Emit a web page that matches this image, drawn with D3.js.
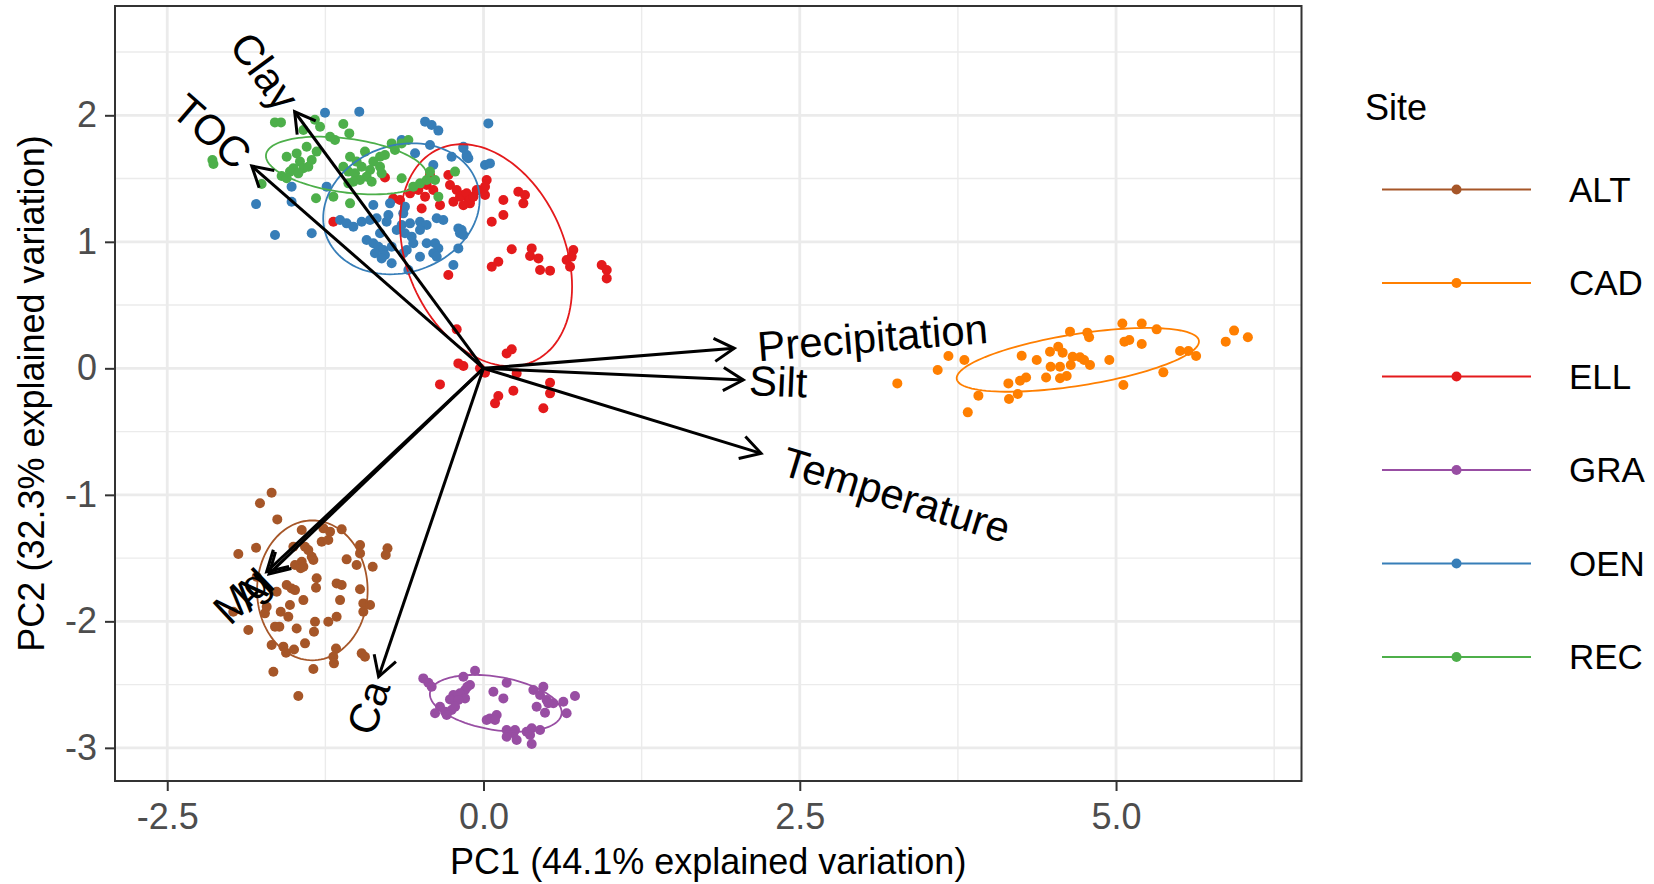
<!DOCTYPE html>
<html>
<head>
<meta charset="utf-8">
<title>PCA biplot by site</title>
<script src="https://d3js.org/d3.v7.min.js"></script>
<style>
  body { margin: 0; background: #fff; }
  text { font-family: "Liberation Sans", Arial, Helvetica, sans-serif; }
</style>
</head>
<body>
<svg id="chart" width="1654" height="884"></svg>
<script>
// ---- data (PC1, PC2 scores) ----
var sites = ["ALT", "CAD", "ELL", "GRA", "OEN", "REC"];
var siteColors = ["#A65628", "#FF7F00", "#E41A1C", "#984EA3", "#377EB8", "#4DAF4A"];

var ALT = [[-1.675,-0.983],[-1.767,-1.067],[-1.630,-1.194],[-1.938,-1.468],[-1.798,-1.418],[-1.437,-1.278],
  [-1.266,-1.265],[-1.213,-1.291],[-1.121,-1.273],[-1.279,-1.371],[-1.227,-1.357],[-1.411,-1.410],[-1.385,-1.437],
  [-1.503,-1.410],[-1.358,-1.489],[-1.437,-1.529],[-1.490,-1.555],[-1.445,-1.581],[-1.345,-1.515],[-1.082,-1.510],
  [-0.976,-1.397],[-0.976,-1.463],[-1.003,-1.555],[-0.876,-1.568],[-1.319,-1.660],[-1.324,-1.734],[-1.556,-1.713],
  [-1.517,-1.740],[-1.635,-1.766],[-1.161,-1.700],[-1.121,-1.713],[-1.134,-1.832],[-0.976,-1.747],[-0.950,-1.858],
  [-0.897,-1.871],[-0.950,-1.924],[-1.424,-1.832],[-1.530,-1.871],[-1.603,-1.924],[-1.543,-1.964],[-1.614,-2.042],
  [-1.648,-2.042],[-1.728,-1.937],[-1.978,-1.924],[-1.859,-2.069],[-1.675,-2.187],[-1.582,-2.200],[-1.561,-2.248],
  [-1.498,-2.222],[-1.411,-2.174],[-1.477,-2.056],[-1.332,-2.003],[-1.340,-2.082],[-1.227,-2.003],[-1.161,-1.964],
  [-1.166,-2.214],[-1.187,-2.280],[-1.182,-2.332],[-0.963,-2.253],[-0.937,-2.280],[-1.661,-2.398],[-1.345,-2.377],
  [-1.464,-2.590],[-1.490,-1.753],[-1.424,-1.568],[-1.793,-1.647],[-1.714,-1.884],[-0.759,-1.423],[-0.773,-1.476]];

var CAD = [[3.271,-0.119],[3.590,-0.013],[3.675,0.097],[3.801,0.066],[3.828,-0.348],[3.912,-0.216],[4.149,-0.119],
  [4.154,-0.243],[4.223,-0.203],[4.241,-0.098],[4.289,-0.072],[4.254,0.100],[4.373,0.066],[4.447,-0.072],
  [4.478,0.131],[4.483,0.013],[4.543,0.170],[4.578,0.124],[4.557,0.013],[4.557,-0.079],[4.610,-0.061],
  [4.642,0.026],[4.657,0.092],[4.715,0.087],[4.747,0.066],[4.794,0.026],[4.636,0.290],[4.773,0.282],
  [4.787,0.245],[4.947,0.066],[5.050,0.355],[5.203,0.355],[5.321,0.308],[5.066,0.211],[5.105,0.224],
  [5.203,0.192],[5.058,-0.132],[5.374,-0.032],[5.506,0.137],[5.572,0.137],[5.633,0.097],[5.867,0.211],
  [5.933,0.298],[6.042,0.245]];

var ELL = [[-0.212,0.308],[-0.199,0.039],[-0.159,0.018],[-0.028,0.000],[0.183,0.118],[0.223,0.150],[-0.344,-0.127],
  [0.117,-0.219],[0.091,-0.277],[0.236,-0.177],[0.526,-0.114],[0.526,-0.198],[0.473,-0.316],[0.262,-0.040],
  [0.012,-0.035],[0.025,1.488],[0.012,1.436],[-0.041,1.410],[0.012,1.370],[-0.159,1.370],[-0.120,1.344],
  [-0.107,1.304],[0.157,1.330],[0.275,1.396],[0.328,1.370],[0.315,1.304],[0.157,1.212],[0.065,1.159],
  [0.223,0.941],[0.381,0.948],[0.368,0.888],[0.434,0.869],[0.447,0.777],[0.526,0.772],[0.117,0.843],
  [0.065,0.803],[0.710,0.935],[0.697,0.883],[0.657,0.856],[0.684,0.803],[0.934,0.817],[0.974,0.777],
  [0.974,0.711],[-0.779,1.509],[-0.713,1.343],[-0.660,1.330],[-0.581,1.383],[-0.515,1.409],[-0.449,1.449],
  [-0.462,1.357],[-0.397,1.409],[-0.344,1.290],[-0.489,1.264],[-0.423,1.528],[-0.278,1.528],[-0.265,1.449],
  [-0.212,1.409],[-0.238,1.317],[-0.186,1.357],[-0.133,1.383],[-0.107,1.330],[-0.159,1.290],[-0.080,1.357],
  [-0.054,1.409],[-1.187,1.159],[-0.278,0.737]];

var GRA = [[-0.476,-2.451],[-0.436,-2.485],[-0.410,-2.517],[-0.159,-2.438],[-0.067,-2.390],[-0.107,-2.503],
  [-0.146,-2.543],[-0.186,-2.569],[-0.238,-2.582],[-0.265,-2.617],[-0.146,-2.609],[-0.344,-2.675],[-0.383,-2.727],
  [-0.304,-2.714],[-0.252,-2.701],[-0.291,-2.741],[0.183,-2.485],[0.078,-2.556],[0.157,-2.609],[0.394,-2.543],
  [0.473,-2.517],[0.447,-2.582],[0.499,-2.622],[0.420,-2.675],[0.486,-2.722],[0.552,-2.648],[0.631,-2.635],
  [0.723,-2.590],[0.657,-2.727],[0.051,-2.767],[0.104,-2.741],[0.025,-2.780],[0.183,-2.859],[0.236,-2.885],
  [0.262,-2.938],[0.183,-2.912],[0.381,-2.846],[0.447,-2.859],[0.368,-2.899],[0.381,-2.970],[0.341,-2.872],
  [-0.199,-2.622],[-0.128,-2.517],[-0.225,-2.675],[0.091,-2.780],[0.249,-2.859],[0.512,-2.648]];

var OEN = [[-1.253,2.020],[-0.982,2.029],[-0.462,1.950],[-0.410,1.924],[-0.357,1.879],[-0.647,1.805],[-0.423,1.765],
  [-0.159,1.752],[-0.133,1.673],[-0.541,1.700],[-0.252,1.673],[-0.397,1.607],[-1.240,1.436],[-0.871,1.291],
  [-0.739,1.304],[-0.621,1.278],[-1.134,1.172],[-1.082,1.146],[-1.029,1.120],[-0.963,1.159],[-0.897,1.172],
  [-0.845,1.186],[-0.766,1.159],[-0.647,1.133],[-0.581,1.146],[-0.502,1.159],[-0.449,1.133],[-0.370,1.186],
  [-0.318,1.172],[-0.686,1.093],[-0.621,1.067],[-0.568,1.041],[-0.502,1.093],[-0.818,1.067],[-0.924,1.014],
  [-0.871,0.988],[-0.831,0.961],[-0.792,0.935],[-0.858,0.909],[-0.779,0.896],[-0.805,0.869],[-0.726,0.961],
  [-0.607,0.935],[-0.555,0.988],[-0.449,0.988],[-0.383,0.988],[-0.357,0.948],[-0.397,0.909],[-0.502,0.882],
  [-0.370,0.882],[-0.199,1.106],[-0.186,1.067],[-0.199,0.948],[-0.238,0.817],[-0.594,0.777],[-0.726,0.830],
  [-0.634,0.909],[-0.752,1.212],[-0.634,1.225],[0.038,1.936],[-0.159,1.739],[-0.133,1.686],[-0.120,1.660],
  [0.012,1.607],[0.051,1.620],[-0.173,1.093],[-0.159,1.054],[-1.517,1.436],[-1.798,1.298],[-1.517,1.317],
  [-1.648,1.054],[-1.358,1.067]];

var REC = [[-1.292,1.910],[-1.213,1.831],[-1.174,1.805],[-1.108,1.931],[-1.061,1.857],[-0.937,1.713],[-1.055,1.673],
  [-1.003,1.634],[-1.108,1.594],[-1.068,1.555],[-1.016,1.541],[-0.963,1.594],[-0.897,1.568],[-0.818,1.673],
  [-0.871,1.634],[-0.924,1.515],[-0.976,1.488],[-1.029,1.475],[-1.068,1.462],[-0.884,1.475],[-0.818,1.594],
  [-0.805,1.541],[-0.779,1.686],[-0.726,1.778],[-0.700,1.726],[-0.647,1.778],[-0.594,1.805],[-0.647,1.502],
  [-0.555,1.436],[-0.502,1.462],[-0.449,1.488],[-0.383,1.488],[-0.423,1.555],[-0.225,1.555],[-0.357,1.357],
  [-1.187,1.357],[-1.055,1.304],[-1.649,1.944],[-1.601,1.944],[-1.333,1.965],[-1.424,1.884],[-1.556,1.673],
  [-1.477,1.699],[-1.398,1.752],[-1.319,1.713],[-1.358,1.647],[-1.451,1.634],[-1.503,1.581],[-1.530,1.555],
  [-1.596,1.520],[-1.556,1.502],[-1.424,1.581],[-1.385,1.594],[-1.464,1.541],[-2.143,1.647],[-2.135,1.615],
  [-1.754,1.457],[-1.324,1.344]];

var siteScores = [ALT, CAD, ELL, GRA, OEN, REC];

// normal data ellipses per site: centre, semi-axes, rotation (degrees)
var ellipseCx    = [-1.353, 4.698, 0.020,  0.097, -0.649, -1.084];
var ellipseCy    = [-1.755, 0.067, 0.894, -2.648,  1.261,  1.603];
var ellipseA     = [ 0.553, 0.969, 0.919,  0.527,  0.631,  0.641];
var ellipseB     = [ 0.437, 0.204, 0.623,  0.210,  0.502,  0.213];
var ellipseAngle = [ 90,    9.0,  -66.2,  -9.5,   19.3,   -7.7];

// loadings (arrow tips)
var loadingNames = ["Clay", "TOC", "Precipitation", "Silt", "Temperature", "Mg", "Al", "Ca"];
var loadingPC1   = [-1.493, -1.832, 1.982,  2.053,  2.194, -1.714, -1.695, -0.829];
var loadingPC2   = [ 2.028,  1.599, 0.158, -0.092, -0.672, -1.608, -1.625, -2.438];

var xTicks = [-2.5, 0, 2.5, 5];
var xMinor = [-1.25, 1.25, 3.75, 6.25];
var yTicks = [-3, -2, -1, 0, 1, 2];
var yMinor = [-2.5, -1.5, -0.5, 0.5, 1.5, 2.5];
var xDomain = [-2.913, 6.466];
var yDomain = [-3.262, 2.864];

// ---- layout ----
var panel = {left: 115, top: 6, right: 1301.5, bottom: 781};

var svg = d3.select("#chart");
var x = d3.scaleLinear().domain(xDomain).range([panel.left, panel.right]);
var y = d3.scaleLinear().domain(yDomain).range([panel.bottom, panel.top]);

svg.append("rect").attr("width", 1654).attr("height", 884).attr("fill", "#fff");

var grid = svg.append("g");
grid.selectAll(".xminor").data(xMinor).enter().append("line")
  .attr("x1", d => x(d)).attr("x2", d => x(d)).attr("y1", panel.top).attr("y2", panel.bottom)
  .attr("stroke", "#EBEBEB").attr("stroke-width", 1.4);
grid.selectAll(".yminor").data(yMinor).enter().append("line")
  .attr("y1", d => y(d)).attr("y2", d => y(d)).attr("x1", panel.left).attr("x2", panel.right)
  .attr("stroke", "#EBEBEB").attr("stroke-width", 1.4);
grid.selectAll(".xmajor").data(xTicks).enter().append("line")
  .attr("x1", d => x(d)).attr("x2", d => x(d)).attr("y1", panel.top).attr("y2", panel.bottom)
  .attr("stroke", "#EBEBEB").attr("stroke-width", 2.8);
grid.selectAll(".ymajor").data(yTicks).enter().append("line")
  .attr("y1", d => y(d)).attr("y2", d => y(d)).attr("x1", panel.left).attr("x2", panel.right)
  .attr("stroke", "#EBEBEB").attr("stroke-width", 2.8);

// points
sites.forEach(function(s, i) {
  svg.append("g").selectAll("circle").data(siteScores[i]).enter().append("circle")
    .attr("cx", d => x(d[0])).attr("cy", d => y(d[1])).attr("r", 5)
    .attr("fill", siteColors[i]);
});

// ellipses
function ellipsePoints(cx, cy, a, b, deg) {
  var th = deg * Math.PI / 180, pts = [];
  for (var k = 0; k < 120; k++) {
    var t = 2 * Math.PI * k / 120;
    pts.push([cx + a * Math.cos(t) * Math.cos(th) - b * Math.sin(t) * Math.sin(th),
              cy + a * Math.cos(t) * Math.sin(th) + b * Math.sin(t) * Math.cos(th)]);
  }
  return pts;
}
var ellLine = d3.line().x(d => x(d[0])).y(d => y(d[1])).curve(d3.curveLinearClosed);
sites.forEach(function(s, i) {
  svg.append("path")
    .attr("d", ellLine(ellipsePoints(ellipseCx[i], ellipseCy[i], ellipseA[i], ellipseB[i], ellipseAngle[i])))
    .attr("fill", "none").attr("stroke", siteColors[i]).attr("stroke-width", 1.8);
});

// loading arrows
var arrows = svg.append("g");
loadingNames.forEach(function(name, i) {
  var x0 = x(0), y0 = y(0), x1 = x(loadingPC1[i]), y1 = y(loadingPC2[i]);
  var ang = Math.atan2(y1 - y0, x1 - x0), head = 23, spread = Math.PI / 6;
  arrows.append("line").attr("x1", x0).attr("y1", y0).attr("x2", x1).attr("y2", y1)
    .attr("stroke", "#000").attr("stroke-width", 3);
  var p1 = [x1 - head * Math.cos(ang - spread), y1 - head * Math.sin(ang - spread)];
  var p2 = [x1 - head * Math.cos(ang + spread), y1 - head * Math.sin(ang + spread)];
  arrows.append("path").attr("d", "M" + p1 + "L" + x1 + "," + y1 + "L" + p2)
    .attr("fill", "none").attr("stroke", "#000").attr("stroke-width", 3);

  var deg = Math.atan(loadingPC2[i] / loadingPC1[i]) * 180 / Math.PI;
  var lab = arrows.append("text")
    .attr("transform", "translate(" + x1 + "," + y1 + ") rotate(" + (-deg) + ")")
    .attr("text-anchor", loadingPC1[i] > 0 ? "start" : "end")
    .attr("dy", "0.35em").attr("font-size", 42).attr("fill", "#000")
    .text(name);
  var w = lab.node().getComputedTextLength();
  lab.attr("dx", (loadingPC1[i] > 0 ? 1 : -1) * 0.1 * w);
});

// panel border
svg.append("rect").attr("x", panel.left).attr("y", panel.top)
  .attr("width", panel.right - panel.left).attr("height", panel.bottom - panel.top)
  .attr("fill", "none").attr("stroke", "#333333").attr("stroke-width", 2);

// axes
var fmtX = d => d3.format(".1f")(d).replace("\u2212", "-");
var fmtY = d => d3.format("d")(d).replace("\u2212", "-");
var xAxis = svg.append("g").attr("transform", "translate(0," + panel.bottom + ")")
  .call(d3.axisBottom(x).tickValues(xTicks).tickFormat(fmtX).tickSize(10).tickPadding(12));
var yAxis = svg.append("g").attr("transform", "translate(" + panel.left + ",0)")
  .call(d3.axisLeft(y).tickValues(yTicks).tickFormat(fmtY).tickSize(10).tickPadding(8));
[xAxis, yAxis].forEach(function(g) {
  g.select(".domain").remove();
  g.attr("font-family", null).attr("font-size", 36);
  g.selectAll("line").attr("stroke", "#333333").attr("stroke-width", 2);
  g.selectAll("text").attr("fill", "#4D4D4D");
});

svg.append("text").attr("x", (panel.left + panel.right) / 2).attr("y", 874)
  .attr("text-anchor", "middle").attr("font-size", 36).attr("fill", "#000")
  .text("PC1 (44.1% explained variation)");
svg.append("text")
  .attr("transform", "translate(43.5," + (panel.top + panel.bottom) / 2 + ") rotate(-90)")
  .attr("text-anchor", "middle").attr("font-size", 36).attr("fill", "#000")
  .text("PC2 (32.3% explained variation)");

// legend
var legend = svg.append("g");
legend.append("text").attr("x", 1365).attr("y", 120).attr("font-size", 36).attr("fill", "#000").text("Site");
sites.forEach(function(s, i) {
  var ly = 189.5 + i * 93.5;
  legend.append("line").attr("x1", 1382).attr("x2", 1531).attr("y1", ly).attr("y2", ly)
    .attr("stroke", siteColors[i]).attr("stroke-width", 2);
  legend.append("circle").attr("cx", 1456.5).attr("cy", ly).attr("r", 5).attr("fill", siteColors[i]);
  legend.append("text").attr("x", 1569).attr("y", ly).attr("dy", "0.35em")
    .attr("font-size", 35).attr("fill", "#000").text(s);
});
</script>
</body>
</html>
